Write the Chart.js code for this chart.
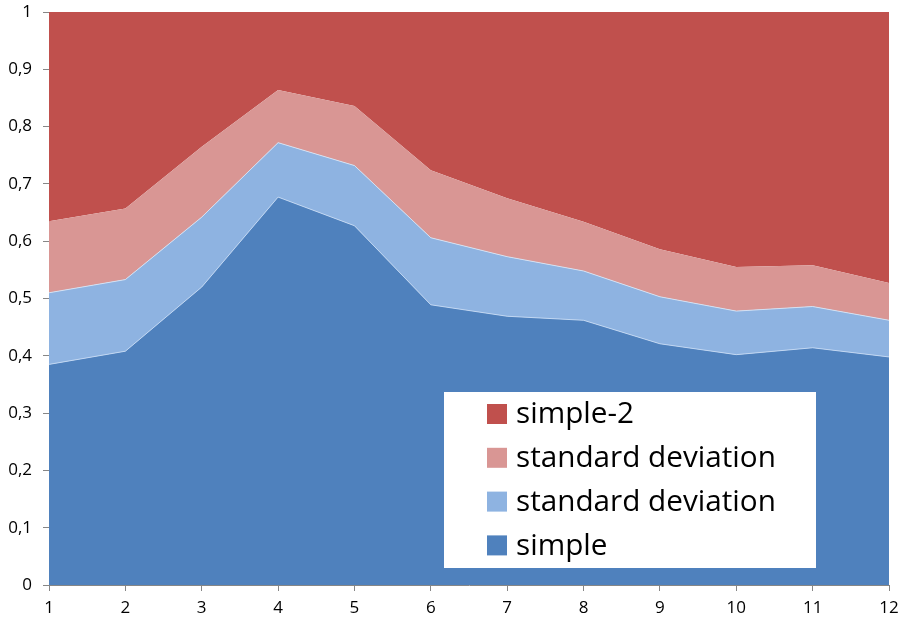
<!DOCTYPE html>
<html>
<head>
<meta charset="utf-8">
<script src="https://cdn.jsdelivr.net/npm/chart.js@4/dist/chart.umd.min.js"></script>
<style>
  html, body { margin: 0; padding: 0; background: #fff; }
  #wrap { width: 900px; height: 619px; }
</style>
</head>
<body>
<div id="wrap"><canvas id="areaChart" width="900" height="619"></canvas></div>
<script>
const labels = ['1', '2', '3', '4', '5', '6', '7', '8', '9', '10', '11', '12'];
// stacked increments, bottom to top
const simple = [0.385, 0.408, 0.520, 0.677, 0.627, 0.489, 0.469, 0.462, 0.421, 0.402, 0.414, 0.398];
const sdBlue = [0.125, 0.125, 0.122, 0.095, 0.105, 0.117, 0.104, 0.086, 0.082, 0.076, 0.072, 0.064];
const sdPink = [0.125, 0.124, 0.123, 0.092, 0.104, 0.118, 0.102, 0.086, 0.083, 0.077, 0.072, 0.065];
const simple2 = [0.365, 0.343, 0.235, 0.136, 0.164, 0.276, 0.325, 0.366, 0.414, 0.445, 0.442, 0.473];
const yTicks = [0, 0.1, 0.2, 0.3, 0.4, 0.5, 0.6, 0.7, 0.8, 0.9, 1];

const legendBox = {
    id: 'legendBox',
    afterDraw(chart) {
        const ctx = chart.ctx;
        const sets = chart.data.datasets.slice().reverse();
        ctx.save();
        ctx.fillStyle = '#ffffff';
        ctx.fillRect(444, 392, 372, 176);
        let size = 28;
        ctx.font = size + 'px "Open Sans"';
        const w = ctx.measureText('standard deviation').width;
        size = size * 260 / w;
        ctx.font = size + 'px "Open Sans"';
        ctx.textBaseline = 'middle';
        sets.forEach((ds, i) => {
            const y = 414 + i * 43.8;
            ctx.fillStyle = ds.backgroundColor;
            ctx.fillRect(487, y - 10, 20, 20);
            ctx.fillStyle = '#000';
            ctx.fillText(ds.label, 516, y + 1);
        });
        ctx.restore();
    }
};

const ctx = document.getElementById('areaChart').getContext('2d');
const chart = new Chart(ctx, {
    type: 'line',
    data: {
        labels: labels,
        datasets: [
            { label: 'simple', data: simple, backgroundColor: '#4F81BD', borderColor: 'rgba(200,220,245,0.9)', borderWidth: 1, fill: 'origin' },
            { label: 'standard deviation', data: sdBlue, backgroundColor: '#8EB3E1', borderColor: 'rgba(215,228,245,0.9)', borderWidth: 1, fill: '-1' },
            { label: 'standard deviation', data: sdPink, backgroundColor: '#D99694', borderColor: '#D99694', borderWidth: 0, fill: '-1' },
            { label: 'simple-2', data: simple2, backgroundColor: '#C0504D', borderColor: '#C0504D', borderWidth: 0, fill: '-1' }
        ]
    },
    options: {
        responsive: false,
        animation: false,
        elements: { point: { radius: 0 }, line: { tension: 0 } },
        layout: { padding: { top: 12, right: 11, left: 0, bottom: 0 } },
        plugins: {
            legend: { display: false },
            tooltip: { enabled: false }
        },
        scales: {
            x: {
                offset: false,
                grid: { drawOnChartArea: false, tickLength: 6, color: '#868686' },
                border: { color: '#868686' },
                ticks: { color: '#000', font: { family: 'Open Sans', size: 17 }, padding: 7, maxRotation: 0 },
                afterFit: s => { s.height = 34; s.paddingLeft = 0; s.paddingRight = 0; }
            },
            y: {
                stacked: true,
                min: 0,
                max: 1,
                afterBuildTicks: s => { s.ticks = yTicks.map(v => ({ value: v })); },
                grid: { drawOnChartArea: false, tickLength: 6, color: '#868686' },
                border: { color: '#868686' },
                ticks: {
                    color: '#000',
                    font: { family: 'Open Sans', size: 17 },
                    padding: 11,
                    callback: v => (v === 0 || v === 1) ? String(v) : v.toFixed(1).replace('.', ',')
                },
                afterFit: s => { s.width = 49; s.paddingTop = 0; s.paddingBottom = 0; }
            }
        }
    },
    plugins: [legendBox]
});
</script>
</body>
</html>
